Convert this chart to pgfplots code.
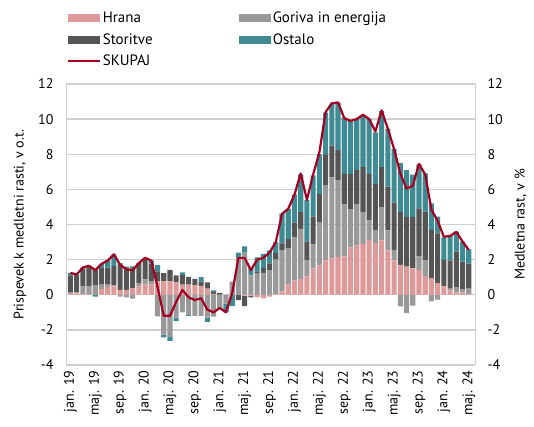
\documentclass[border=0pt]{standalone}
\usepackage{pgfplots}
\pgfplotsset{compat=1.18}
\usepackage{pgfplotstable}
\usepackage{fontspec}
\setmainfont{PT Sans}
\definecolor{hrana}{HTML}{DE9A9A}
\definecolor{goriva}{HTML}{999999}
\definecolor{storitve}{HTML}{555555}
\definecolor{ostalo}{HTML}{3E8B93}
\definecolor{skupaj}{HTML}{A50021}
\definecolor{gridc}{HTML}{CFCFCF}

% i: month index (0 = jan. 19); h = Hrana, g = Goriva in energija, s = Storitve, o = Ostalo, t = SKUPAJ
\pgfplotstableread{
i h g s o t
0 0.10 0.05 0.95 0.13 1.25
1 0.08 0.05 1.00 0.02 1.15
2 0.05 0.45 1.00 0.05 1.55
3 0.02 0.48 1.12 0.03 1.65
4 0.00 0.55 0.95 -0.10 1.40
5 0.32 0.25 0.95 0.23 1.75
6 0.45 0.15 0.95 0.40 1.95
7 0.48 0.05 1.10 0.67 2.30
8 0.28 -0.10 1.45 0.07 1.70
9 0.28 -0.15 1.17 0.15 1.45
10 0.38 -0.22 1.04 0.20 1.40
11 0.48 0.19 1.13 0.00 1.80
12 0.57 0.30 1.23 0.00 2.10
13 0.57 0.20 1.00 0.18 1.95
14 0.76 -1.23 0.57 0.35 0.45
15 0.76 -2.27 0.47 -0.16 -1.20
16 0.76 -2.40 0.66 -0.22 -1.20
17 0.70 -1.30 0.40 -0.20 -0.40
18 0.57 -1.00 0.55 0.15 0.27
19 0.57 -1.15 0.45 -0.05 -0.15
20 0.55 -1.20 0.35 0.00 -0.30
21 0.50 -1.20 0.25 0.25 -0.20
22 0.35 -1.30 0.35 -0.25 -0.85
23 0.05 -1.25 0.10 0.10 -1.00
24 0.00 -0.85 0.10 0.00 -0.75
25 0.00 -0.50 0.00 -0.50 -1.00
26 0.00 0.75 0.00 -0.65 0.10
27 0.00 2.10 -0.30 0.30 2.10
28 -0.05 2.40 -0.60 0.35 2.10
29 -0.05 1.10 -0.10 0.45 1.40
30 -0.15 1.20 0.13 0.80 2.00
31 -0.20 1.25 0.28 0.80 2.10
32 -0.10 1.40 0.38 0.75 2.40
33 0.05 1.95 0.38 0.60 3.00
34 0.19 2.35 0.38 1.70 4.60
35 0.57 2.05 0.55 1.70 4.90
36 0.80 2.50 0.80 1.60 5.70
37 0.90 2.85 0.95 2.15 6.90
38 1.04 0.95 1.04 2.37 5.40
39 1.50 1.40 1.55 2.35 6.85
40 1.67 2.46 1.60 2.27 8.10
41 1.95 4.26 1.76 2.40 10.40
42 2.05 4.64 1.80 2.40 10.90
43 2.14 4.36 1.74 2.70 10.95
44 2.18 3.00 1.70 3.20 10.05
45 2.70 2.18 1.99 3.03 9.90
46 2.80 2.37 1.93 2.90 10.00
47 2.90 1.80 2.56 2.94 10.25
48 3.13 1.14 2.61 3.12 10.00
49 2.94 0.76 2.61 2.94 9.30
50 3.09 1.90 2.27 3.20 10.50
51 2.52 1.14 2.50 3.30 9.45
52 1.95 0.60 2.70 3.05 8.30
53 1.70 -0.66 3.00 2.80 6.90
54 1.60 -1.04 2.84 2.65 6.05
55 1.50 -0.62 2.94 2.40 6.20
56 1.42 0.80 2.70 2.50 7.45
57 1.08 0.90 2.75 2.18 6.85
58 0.95 -0.38 2.75 1.50 4.85
59 0.66 -0.28 2.84 0.95 4.20
60 0.47 0.00 1.50 1.29 3.30
61 0.25 0.10 1.60 1.40 3.35
62 0.13 0.30 2.03 1.14 3.58
63 0.13 0.19 1.57 1.14 3.03
64 0.05 0.30 1.42 0.81 2.55
}\data

\pgfplotsset{
  base/.style={
    width=409pt, height=281pt, scale only axis,
    xmin=-0.7, xmax=65, ymin=-4, ymax=12,
    major tick length=0pt,
    /pgf/number format/assume math mode=true,
  },
  bars/.style={base, ybar stacked, bar width=0.82},
}

\begin{document}
\begin{tikzpicture}[font=\fontsize{14}{16}\selectfont]
% axis 1: frame, grid, labels, negative parts
\begin{axis}[bars,
  axis line style={gridc, line width=1pt},
  ymajorgrids, grid style={gridc, line width=1.3pt},
  ytick={-4,-2,...,12},
  yticklabel shift=9pt,
  xtick={0,4,...,64},
  xticklabels={jan. 19, maj. 19, sep. 19, jan. 20, maj. 20, sep. 20, jan. 21, maj. 21, sep. 21, jan. 22, maj. 22, sep. 22, jan. 23, maj. 23, sep. 23, jan. 24, maj. 24},
  xticklabel style={rotate=90, anchor=east},
  xticklabel shift=2pt,
  ylabel={Prispevek k medletni rasti, v o.t.},
  ylabel shift=5pt,
]
\coordinate (O) at (rel axis cs:0,0);
\addplot[fill=hrana, draw=none] table[x=i, y expr={min(\thisrow{h},0)}] {\data};
\addplot[fill=goriva, draw=none] table[x=i, y expr={min(\thisrow{g},0)}] {\data};
\addplot[fill=storitve, draw=none] table[x=i, y expr={min(\thisrow{s},0)}] {\data};
\addplot[fill=ostalo, draw=none] table[x=i, y expr={min(\thisrow{o},0)}] {\data};
\end{axis}
% axis 2: positive parts and legend
\begin{axis}[bars, hide axis,
  legend columns=2,
  legend cell align=left,
  legend style={draw=none, fill=none, at={(0,1)}, anchor=south west, xshift=1pt, yshift=16pt,
    row sep=7pt, inner sep=0pt, nodes={inner xsep=2pt, inner ysep=1pt},
    font=\fontsize{15}{17}\selectfont},
  legend image code/.code={\fill[#1] (0pt,-4pt) rectangle (32pt,4pt);},
]
\addplot[fill=hrana, draw=none] table[x=i, y expr={max(\thisrow{h},0)}] {\data};
\addlegendentry{\makebox[134pt][l]{Hrana}}
\addplot[fill=goriva, draw=none] table[x=i, y expr={max(\thisrow{g},0)}] {\data};
\addlegendentry{Goriva in energija}
\addplot[fill=storitve, draw=none] table[x=i, y expr={max(\thisrow{s},0)}] {\data};
\addlegendentry{\makebox[134pt][l]{Storitve}}
\addplot[fill=ostalo, draw=none] table[x=i, y expr={max(\thisrow{o},0)}] {\data};
\addlegendentry{Ostalo}
\addlegendimage{legend image code/.code={\draw[skupaj, line width=1.6pt] (0pt,0pt) -- (32pt,0pt);}}
\addlegendentry{\makebox[134pt][l]{SKUPAJ}}
\end{axis}
% axis 3: total line and right axis
\begin{axis}[base,
  axis x line=none, axis y line*=right,
  y axis line style={draw=none},
  ytick={-4,-2,...,12},
  yticklabel shift=9pt,
  ylabel={Medletna rast, v \%},
  ylabel shift=5pt,
]
\addplot[skupaj, line width=2.2pt, line join=round, mark=none] table[x=i, y=t] {\data};
\end{axis}
% page area of the reference: 66pt left and 62pt below the axis frame
\path (O) ++(-66pt,-62pt) rectangle ++(534pt,427pt);
\end{tikzpicture}
\end{document}
